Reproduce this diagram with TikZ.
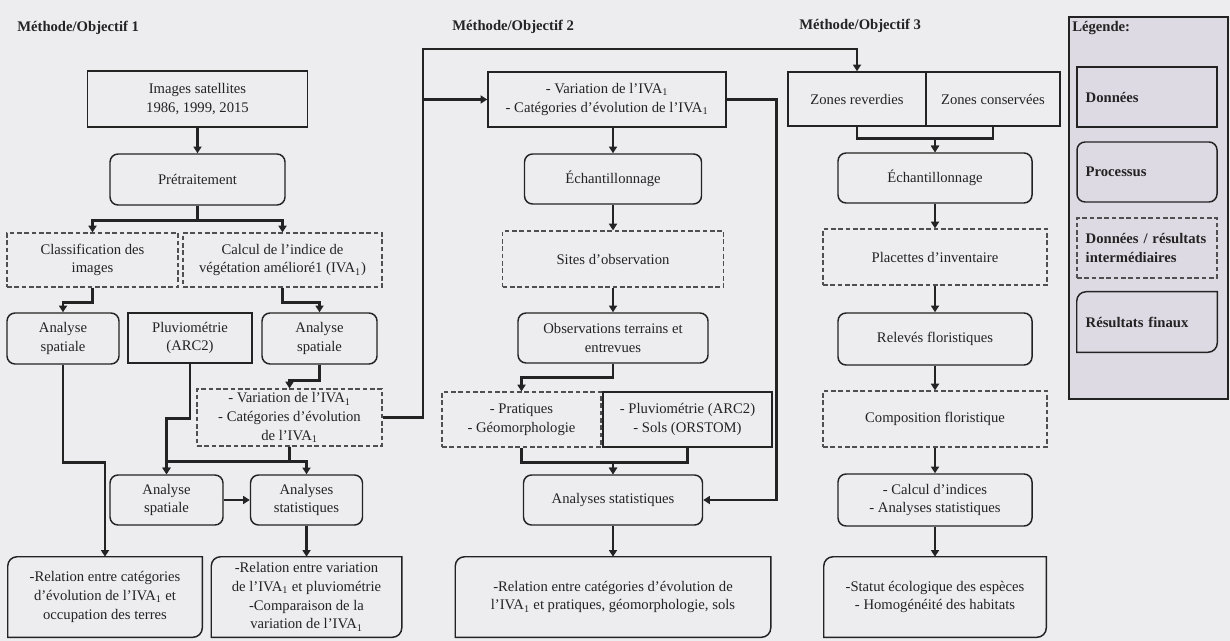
\documentclass[tikz,border=0pt]{standalone}
\usepackage{fontspec}
\setmainfont{Liberation Serif}
\usetikzlibrary{arrows.meta}
\definecolor{fond}{RGB}{237,237,239}
\definecolor{legfond}{RGB}{222,218,227}
\definecolor{trait}{RGB}{35,35,35}
\newcommand{\IVA}{l'IVA\textsubscript{1}}
% cadre des resultats finaux: deux coins arrondis
\newcommand{\rframe}[1]{\draw[trait, line width=1.1pt] (#1.north east) -- ([yshift=7pt]#1.south east)
  arc[start angle=0, end angle=-90, radius=7pt] -- (#1.south west) -- ([yshift=-7pt]#1.north west)
  arc[start angle=180, end angle=90, radius=7pt] -- cycle;}

\begin{document}
\begin{tikzpicture}[x=0.75pt, y=-0.75pt,
        font=\fontsize{11}{14}\selectfont,
        box/.style={align=center, inner sep=1.5pt, text=trait},
        sz/.style 2 args={minimum width=#1*0.75pt, minimum height=#2*0.75pt},
        dbox/.style={box, draw=trait, line width=1.1pt},
        pbox/.style={box, draw=trait, line width=1.1pt, rounded corners=6pt},
        ibox/.style={box, draw=trait!80, line width=0.9pt, dash pattern=on 3.5pt off 2pt},
        rbox/.style={box},
        conn/.style={draw=trait, line width=2pt, -{Triangle[length=5pt,width=6pt]}},
        titre/.style={font=\fontsize{11}{14}\selectfont\bfseries, anchor=west, text=trait, inner sep=0pt},
        legtxt/.style={text width=92pt, align=left, font=\fontsize{11}{14}\selectfont\bfseries},
      ]
        \fill[fond] (0,0) rectangle (1230,641);
        \useasboundingbox (0,0) rectangle (1230,641);

        % Methode/Objectif 1
        \node[titre] (t1) at (17,28) {Méthode/Objectif 1};
        \node[dbox, sz={220}{56}] (sat) at (197.5,99) {Images satellites\\1986, 1999, 2015};
        \node[pbox, sz={175}{51}] (pre) at (197.5,179.5) {Prétraitement};
        \node[ibox, sz={171}{54}] (clas) at (92.5,260) {Classification des\\images};
        \node[ibox, sz={199}{54}] (calc) at (282.5,260) {Calcul de l'indice de\\végétation amélioré1 (IVA\textsubscript{1})};
        \node[pbox, sz={112}{51}] (as1) at (63,338.5) {Analyse\\spatiale};
        \node[dbox, sz={124}{50}] (pluv1) at (190,338) {Pluviométrie\\(ARC2)};
        \node[pbox, sz={115}{51}] (as2) at (319.5,338.5) {Analyse\\spatiale};
        \node[ibox, sz={185}{57}] (var1) at (289.5,417.5) {- Variation de \IVA\\- Catégories d'évolution\\de \IVA};
        \node[pbox, sz={113}{50}] (as3) at (166.5,500) {Analyse\\spatiale};
        \node[pbox, sz={112}{50}] (stat1) at (306.5,500) {Analyses\\statistiques};
        \node[rbox, sz={194}{80}] (res1) at (105,597) {-Relation entre catégories\\d'évolution de \IVA{} et\\occupation des terres};
        \node[rbox, sz={190}{80}] (res2) at (306.5,597) {-Relation entre variation\\de \IVA{} et pluviométrie\\-Comparaison de la\\variation de \IVA};
        \rframe{res1}
        \rframe{res2}

        \draw[conn] (sat) -- (pre);
        \draw[conn] (pre.south) -- ++(0,15) -| (clas.north);
        \draw[conn] (pre.south) -- ++(0,15) -| (calc.north);
        \draw[conn] (clas.south) -- ++(0,15) -| (as1.north);
        \draw[conn] (calc.south) -- ++(0,15) -| (as2.north);
        \draw[conn] (as2.south) -- ++(0,16) -| (var1.north);
        \draw[conn] (pluv1.south) -- ++(0,55) -| (as3.north);
        \draw[conn] (var1.south) -- ++(0,15) -| (as3.north);
        \draw[conn] (var1.south) -- ++(0,15) -| (stat1.north);
        \draw[conn] (as1.south) -- ++(0,98) -| (res1.north);
        \draw[conn] (as3) -- (stat1);
        \draw[conn] (stat1) -- (res2);

        % Methode/Objectif 2
        \node[titre] (t2) at (452,27) {Méthode/Objectif 2};
        \node[dbox, sz={238}{55}] (var2) at (607,99.5) {- Variation de \IVA\\- Catégories d'évolution de \IVA};
        \node[pbox, sz={177}{50}] (ech2) at (613,179) {Échantillonnage};
        \node[ibox, sz={221}{56}] (sites) at (613,259) {Sites d'observation};
        \node[pbox, sz={190}{50}] (obs) at (613,338) {Observations terrains et\\entrevues};
        \node[ibox, sz={159}{55}] (prat) at (521.5,419.5) {- Pratiques\\- Géomorphologie};
        \node[dbox, sz={169}{55}] (pluv2) at (687.5,419.5) {- Pluviométrie (ARC2)\\- Sols (ORSTOM)};
        \node[pbox, sz={179}{50}] (stat2) at (613,500) {Analyses statistiques};
        \node[rbox, sz={315}{80}] (res3) at (613,597) {-Relation entre catégories d'évolution de\\\IVA{} et pratiques, géomorphologie, sols};
        \rframe{res3}

        \draw[conn] (var2.south -| ech2.north) -- (ech2.north);
        \draw[conn] (ech2) -- (sites);
        \draw[conn] (sites) -- (obs);
        \draw[conn] (obs.south) -- ++(0,14) -| (prat.north);
        \draw[conn] (prat.south) -- ++(0,15) -| (stat2.north);
        \draw[conn] (pluv2.south) -- ++(0,15) -| (stat2.north);
        \draw[conn] (var2.east) -- ++(50,0) |- (stat2.east);
        \draw[conn] (stat2) -- (res3);

        % Methode/Objectif 3
        \node[titre] (t3) at (799,26) {Méthode/Objectif 3};
        \node[dbox, sz={138}{54}] (zr) at (857,99) {Zones reverdies};
        \node[dbox, sz={134}{54}] (zc) at (993,99) {Zones conservées};
        \node[pbox, sz={194}{50}] (ech3) at (935,178) {Échantillonnage};
        \node[ibox, sz={224}{56}] (plac) at (935,257) {Placettes d'inventaire};
        \node[pbox, sz={194}{52}] (rel) at (935,339) {Relevés floristiques};
        \node[ibox, sz={224}{56}] (comp) at (935,419) {Composition floristique};
        \node[pbox, sz={194}{52}] (ind) at (935,500) {- Calcul d'indices\\- Analyses statistiques};
        \node[rbox, sz={222}{80}] (res4) at (935,597) {-Statut écologique des espèces\\- Homogénéité des habitats};
        \rframe{res4}

        \draw[conn] (zr.south) -- ++(0,12) -| (ech3.north);
        \draw[conn] (zc.south) -- ++(0,12) -| (ech3.north);
        \foreach \a/\b in {ech3/plac, plac/rel, rel/comp, comp/ind, ind/res4}
          \draw[conn] (\a) -- (\b);

        % liaison entre les objectifs
        \coordinate (bus) at (423,49);
        \draw[conn] (var1.east) -| (bus) -| (zr.north);
        \draw[conn] (bus |- var2.west) -- (var2.west);

        % Legende
        \node[draw=trait, line width=0.9pt, fill=legfond, sz={159}{382}] (leg) at (1148.5,208) {};
        \node[titre] (legt) at (1072,28) {Légende:};
        \node[dbox, legtxt, sz={140}{60}] (ld) at (1147,97) {Données};
        \node[pbox, legtxt, sz={140}{60}] (lp) at (1147,172) {Processus};
        \node[ibox, legtxt, sz={140}{60}] (li) at (1147,248) {Données / résultats\\intermédiaires};
        \node[rbox, legtxt, sz={140}{60}] (lf) at (1147,322) {Résultats finaux};
        \rframe{lf}
      \end{tikzpicture}
\end{document}
